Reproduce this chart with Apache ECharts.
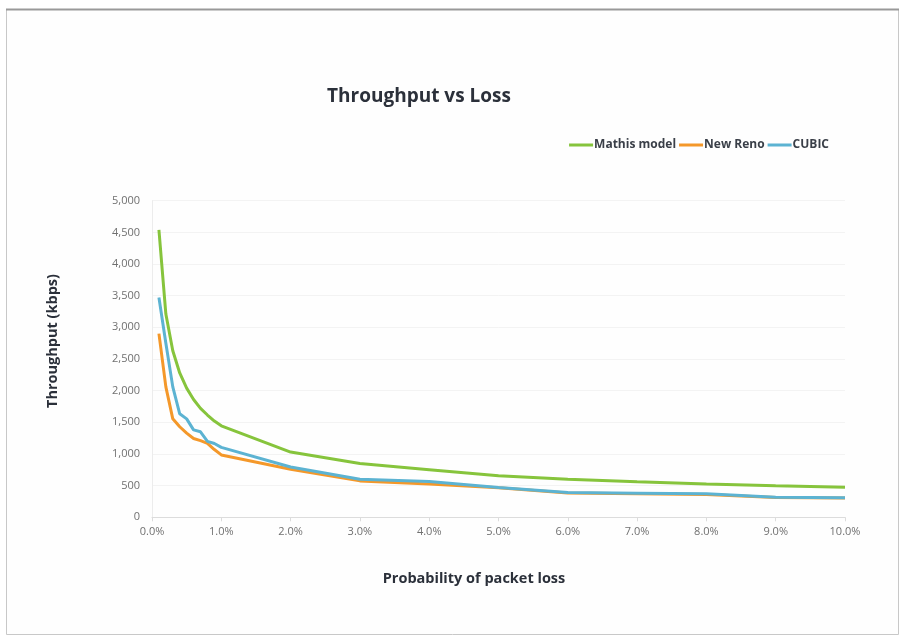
<!DOCTYPE html>
<html>
<head>
<meta charset="utf-8">
<script src="https://cdn.jsdelivr.net/npm/echarts@6/dist/echarts.min.js"></script>
<style>
html,body{margin:0;padding:0;background:#fff;}
#chart{width:904px;height:637px;}
</style>
</head>
<body>
<div id="chart"></div>
<script>
const lossPct = [0.1, 0.2, 0.3, 0.4, 0.5, 0.6, 0.7, 0.8, 0.9, 1.0, 2, 3, 4, 5, 6, 7, 8, 9, 10];
const mathis  = [4540, 3210, 2630, 2280, 2040, 1860, 1720, 1615, 1520, 1445, 1030, 850, 752, 655, 600, 560, 525, 498, 474];
const newReno = [2900, 2060, 1555, 1430, 1330, 1245, 1210, 1168, 1070, 985, 760, 575, 525, 465, 385, 372, 360, 312, 305];
const cubic   = [3470, 2750, 2060, 1635, 1555, 1380, 1350, 1200, 1165, 1105, 795, 602, 565, 472, 392, 380, 370, 316, 310];
const seriesNames = ['Mathis model', 'New Reno', 'CUBIC'];
const xTickMax = 10;
const yTickMax = 5000;

function pairs(vals){ return lossPct.map((x,i)=>[x, vals[i]]); }

const chart = echarts.init(document.getElementById('chart'));
const font = '"Open Sans", "Noto Sans", sans-serif';
chart.setOption({
  backgroundColor: '#ffffff',
  animation: false,
  graphic: [
    {type:'rect', shape:{x:6.5, y:9.5, width:892, height:625}, style:{fill:'#fefefe', stroke:'#c8c8c8', lineWidth:1}, z:-10},
    {type:'line', shape:{x1:6, y1:9.5, x2:899, y2:9.5}, style:{stroke:'#999', lineWidth:2}, z:-9}
  ],
  title: {
    text: 'Throughput vs Loss',
    left: 414, top: 82, textAlign: 'center',
    textStyle: {fontFamily: font, fontWeight: 'bold', fontSize: 19, color: '#2b303a'}
  },
  legend: {
    right: 70, top: 134,
    itemWidth: 24, itemHeight: 3, itemGap: 3,
    icon: 'rect',
    textStyle: {fontFamily: font, fontWeight: 'bold', fontSize: 12, color: '#3a3f48', padding:[0,0,0,-4]},
    data: seriesNames
  },
  grid: {left: 152, right: 59, top: 200.7, bottom: 119.7},
  xAxis: {
    type: 'value', min: 0, max: xTickMax, interval: 1,
    name: 'Probability of packet loss', nameLocation: 'middle', nameGap: 54,
    nameTextStyle: {fontFamily: font, fontWeight: 'bold', fontSize: 14.5, color: '#2b303a', padding: [0, 49, 0, 0]},
    axisLine: {lineStyle: {color: '#dcdcdc'}},
    axisTick: {show: true, length: 4, lineStyle: {color: '#dcdcdc'}},
    axisLabel: {fontFamily: font, fontSize: 11, color: '#707070', margin: 9, formatter: v => v.toFixed(1) + '%'},
    splitLine: {show: false}
  },
  yAxis: {
    type: 'value', min: 0, max: yTickMax, interval: 500,
    name: 'Throughput (kbps)', nameLocation: 'middle', nameGap: 92, nameRotate: 90,
    nameTextStyle: {fontFamily: font, fontWeight: 'bold', fontSize: 14.5, color: '#2b303a', padding: [0, 0, 0, 36]},
    axisLine: {show: true, lineStyle: {color: '#ececec'}},
    axisTick: {show: false},
    axisLabel: {fontFamily: font, fontSize: 11, color: '#707070', margin: 12, formatter: v => v.toLocaleString('en-US')},
    splitLine: {lineStyle: {color: '#f3f3f3'}}
  },
  series: [
    {name: seriesNames[0], type: 'line', data: pairs(mathis), showSymbol: false, lineStyle: {width: 3, color: '#86c43c'}, itemStyle: {color: '#86c43c'}, z: 3},
    {name: seriesNames[1], type: 'line', data: pairs(newReno), showSymbol: false, lineStyle: {width: 3, color: '#f4982a'}, itemStyle: {color: '#f4982a'}, z: 1},
    {name: seriesNames[2], type: 'line', data: pairs(cubic), showSymbol: false, lineStyle: {width: 3, color: '#5cb3d2'}, itemStyle: {color: '#5cb3d2'}, z: 2}
  ]
});
</script>
</body>
</html>
